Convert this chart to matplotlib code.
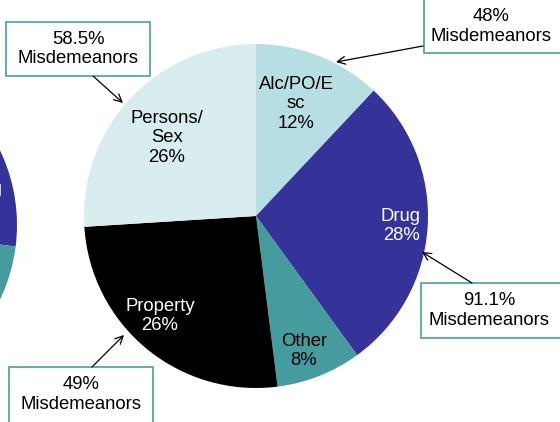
import matplotlib.pyplot as plt
from matplotlib.patches import Rectangle

plt.rcParams['font.family'] = ['Liberation Sans', 'DejaVu Sans']

# main pie, clockwise from 12 o'clock
categories = ["Alc/PO/E\nsc", "Drug", "Other", "Property", "Persons/\nSex"]
shares = [12, 28, 8, 26, 26]
colors = ["#b7dfe3", "#35339a", "#469b9e", "#000000", "#d9ecef"]
text_colors = ["black", "white", "black", "white", "black"]

# neighbouring pie, mostly cut off at the left edge (rough guess)
left_shares = [10, 17, 9, 30, 34]

# callouts: share of misdemeanors per slice
callout_text = ["48%", "91.1%", "49%", "58.5%"]

W, H = 560, 422
FS = 13.3
fig = plt.figure(figsize=(W / 100, H / 100), dpi=100)
ax = fig.add_axes([0, 0, 1, 1])


def yy(y):
    # picture coords (y down) -> axes coords (y up)
    return H - y


ax.pie(left_shares, colors=colors, startangle=90, counterclock=False,
       center=(-155, yy(225)), radius=172, frame=True,
       wedgeprops=dict(linewidth=0))
ax.text(3, yy(190), "Drug", color="white", fontsize=FS, ha="right", va="center")

wedges, _ = ax.pie(shares, colors=colors, startangle=90, counterclock=False,
                   center=(256, yy(216)), radius=172, frame=True,
                   wedgeprops=dict(linewidth=0))

label_pos = [(296, 104), (401, 226), (304, 351), (160, 316), (167, 138)]
for cat, s, (x, y), tc in zip(categories, shares, label_pos, text_colors):
    ax.text(x, yy(y), f"{cat}\n{s}%", color=tc, fontsize=FS,
            ha="center", va="center", linespacing=1.2)

# callout boxes: (x0, y0, x1, y1) in picture coords, arrow from -> to
boxes = [(424, -5, 570, 53), (421, 283, 570, 338), (9, 367, 153, 430), (6, 22, 150, 76)]
arrows = [((423, 46), (336, 62)), ((472, 283), (422, 252)),
          ((92, 367), (124, 335)), ((93, 76), (123, 103))]

for txt, (x0, y0, x1, y1), (p0, p1) in zip(callout_text, boxes, arrows):
    ax.add_patch(Rectangle((x0, yy(y1)), x1 - x0, y1 - y0, facecolor="white",
                           edgecolor="#4a9ea2", linewidth=1.2, zorder=5))
    cx = (x0 + min(x1, 558)) / 2 if x1 > W else (x0 + x1) / 2
    cy = (max(y0, 0) + min(y1, H)) / 2
    ax.text(cx, yy(cy), f"{txt}\nMisdemeanors", fontsize=FS, ha="center",
            va="center", linespacing=1.2, zorder=6)
    ax.annotate("", xy=(p1[0], yy(p1[1])), xytext=(p0[0], yy(p0[1])),
                arrowprops=dict(arrowstyle="->", color="black", lw=0.9,
                                shrinkA=0, shrinkB=0, mutation_scale=14),
                zorder=6)

ax.set_xlim(0, W)
ax.set_ylim(0, H)
ax.set_aspect("auto")
ax.axis("off")

fig.savefig("out.png", dpi=100)
